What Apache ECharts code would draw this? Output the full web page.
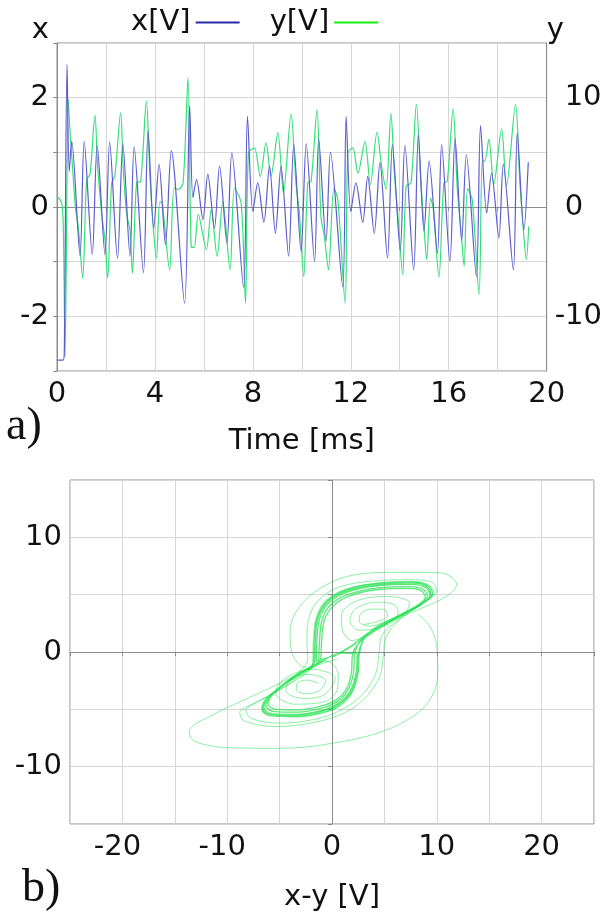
<!DOCTYPE html>
<html><head><meta charset="utf-8">
<script src="https://cdn.jsdelivr.net/npm/echarts@6/dist/echarts.min.js"></script>
<style>html,body{margin:0;padding:0;background:#fff}#c{width:605px;height:916px}</style>
</head><body><div id="c"></div>
<script>
// ---- time series (a) ----
const xSignal = [[0,-2.8],[0.25,-2.8],[0.3,-2.6],[0.41,2.61],[0.5,0.65],[0.6,1.2],[0.94,-0.89],[1.11,1.2],[1.44,-0.87],[1.64,1.13],[1.96,-0.87],[2.15,1.19],[2.47,-0.94],[2.69,1.16],[2.98,-0.9],[3.15,1.1],[3.53,-1.2],[3.72,1.39],[3.95,-0.39],[4.17,0.78],[4.43,-0.69],[4.67,1.03],[5.21,-1.76],[5.42,1.85],[5.55,0.17],[5.7,0.5],[5.96,-0.23],[6.16,0.6],[6.43,-0.39],[6.64,0.75],[6.94,-0.66],[7.14,0.99],[7.62,-1.47],[7.78,1.66],[8.0,-0.08],[8.2,0.44],[8.45,-0.28],[8.68,0.75],[8.92,-0.48],[9.15,0.75],[9.46,-0.9],[9.67,1.14],[9.97,-0.81],[10.18,1.16],[10.52,-1.0],[10.69,1.24],[10.99,-0.63],[11.17,1.0],[11.67,-1.46],[11.81,1.66],[12.0,-0.08],[12.21,0.44],[12.49,-0.28],[12.69,0.56],[12.96,-0.48],[13.19,0.81],[13.5,-0.94],[13.7,1.14],[14.02,-0.8],[14.21,1.13],[14.57,-1.15],[14.76,1.33],[14.99,-0.45],[15.2,0.84],[15.54,-0.84],[15.71,1.14],[16.05,-1.0],[16.26,1.25],[16.53,-0.61],[16.72,0.96],[17.13,-1.27],[17.3,1.49],[17.55,-0.11],[17.75,0.62],[18.05,-0.57],[18.23,0.78],[18.64,-1.15],[18.8,1.36],[19.07,-0.42],[19.25,0.82]];
const ySignal = [[0,0.98],[0.19,0.37],[0.26,-2.0],[0.33,-13.7],[0.46,9.85],[0.52,7.4],[0.66,2.8],[0.76,-0.24],[0.87,-1.8],[1.05,-6.5],[1.21,2.5],[1.35,3.0],[1.55,8.4],[1.66,3.7],[1.82,-0.55],[1.96,-3.0],[2.07,-6.5],[2.23,2.2],[2.36,2.8],[2.6,8.6],[2.7,3.7],[2.84,-0.55],[2.98,-2.1],[3.08,-6.05],[3.25,2.2],[3.42,2.35],[3.65,9.7],[3.79,3.1],[3.93,-1.8],[4.06,-4.7],[4.2,0.5],[4.3,0.3],[4.6,-5.75],[4.78,1.74],[4.95,1.6],[5.15,2.2],[5.35,11.8],[5.48,-3.6],[5.6,-3.7],[5.77,-0.7],[6.1,-3.9],[6.3,-0.24],[6.54,-4.5],[6.77,0.5],[7.07,-5.75],[7.25,1.74],[7.52,0.37],[7.7,-8.8],[7.82,4.95],[8.06,5.4],[8.3,2.8],[8.54,5.87],[8.74,2.8],[9.02,6.8],[9.25,1.28],[9.56,8.5],[9.76,2.2],[9.9,-0.5],[10.08,-6.4],[10.24,2.2],[10.38,2.35],[10.62,8.9],[10.78,-0.86],[10.92,-2.7],[11.09,-5.75],[11.31,1.74],[11.47,0.67],[11.77,-8.8],[11.88,4.95],[12.08,5.4],[12.29,3.1],[12.58,6.0],[12.8,2.05],[13.07,6.85],[13.26,3.7],[13.44,1.6],[13.64,8.56],[13.78,3.1],[13.94,-1.2],[14.12,-6.2],[14.26,1.9],[14.46,2.2],[14.68,9.4],[14.86,2.5],[14.99,-1.8],[15.1,-4.8],[15.26,0.8],[15.37,-0.2],[15.6,-6.4],[15.8,2.2],[15.94,2.35],[16.18,9.0],[16.35,1.6],[16.49,-1.8],[16.63,-5.4],[16.77,1.7],[16.96,0.67],[17.24,-8.0],[17.37,4.2],[17.47,4.2],[17.64,6.2],[17.84,2.05],[18.16,7.15],[18.36,1.9],[18.73,9.4],[18.9,2.5],[19.04,-1.8],[19.17,-4.8],[19.27,-1.77]];
const timeLabels = [0, 4, 8, 12, 16, 20];
const xLabels = [-2, 0, 2];
const yLabels = [-10, 0, 10];

// ---- phase portrait (b) ----
const bandLoops = [
 [0.0,-0.45],[1.6,0.35],[3.2,1.45],[6.2,3.0],[8.7,4.25],[9.6,5.05],[9.2,5.75],[7.8,6.1],[4.6,6.0],[1.4,5.45],[-0.5,4.45],[-1.45,2.9],[-1.7,0.8],[-1.75,-0.9],
 [-3.5,-2.05],[-5.1,-3.15],[-6.3,-4.1],[-6.7,-5.0],[-5.9,-5.55],[-3.5,-5.65],[-0.9,-5.3],[0.7,-4.7],[1.9,-3.55],[2.5,-1.8],[2.6,-0.2],
 [3.4,1.6],[6.3,3.05],[8.5,4.15],[9.35,4.95],[8.95,5.6],[7.6,5.9],[4.5,5.8],[1.5,5.25],[-0.3,4.3],[-1.2,2.85],[-1.45,0.8],[-1.5,-0.8],
 [0.3,-0.25],[1.9,0.55],[3.5,1.7],[6.3,3.1],[8.3,4.1],[9.1,4.85],[8.7,5.45],[7.4,5.7],[4.4,5.6],[1.6,5.05],[-0.1,4.15],[-0.95,2.8],[-1.2,0.8],[-1.3,-0.75],
 [-3.4,-2.0],[-5.0,-3.1],[-6.1,-4.0],[-6.5,-4.85],[-5.7,-5.4],[-3.4,-5.45],[-1.0,-5.1],[0.55,-4.5],[1.7,-3.45],[2.3,-1.8],[2.4,-0.2],
 [1.0,-0.1],[-1.8,-1.3],[-4.85,-3.0],[-5.9,-3.85],[-6.3,-4.7],[-5.5,-5.2],[-3.3,-5.25],[-1.0,-4.9],[0.45,-4.35],[1.5,-3.35],[2.05,-1.8],[2.15,-0.2],
 [3.3,1.55],[6.2,3.0],[8.6,4.2],[9.45,5.0],[9.05,5.7],[7.7,6.0],[4.6,5.9],[1.45,5.35],[-0.4,4.4],[-1.35,2.9],[-1.6,0.8],[-1.65,-0.85],
 [-3.45,-2.0],[-5.05,-3.1],[-6.2,-4.05],[-6.6,-4.95],[-5.8,-5.5],[-3.5,-5.55],[-1.0,-5.2],[0.6,-4.6],[1.8,-3.5],[2.4,-1.8],[2.5,-0.2],
 [3.6,1.75],[6.3,3.15],[8.1,4.05],[8.9,4.75],[8.5,5.35],[7.2,5.55],[4.4,5.45],[1.7,4.9],[0.1,4.0],[-0.75,2.7],[-1.0,0.8],[-1.1,-0.7],
 [-3.2,-1.9],[-4.7,-2.95],[-5.7,-3.75],[-6.1,-4.55],[-5.3,-5.0],[-3.2,-5.05],[-1.0,-4.7],[0.35,-4.2],[1.35,-3.25],[1.85,-1.8],[1.95,-0.2],
 [3.3,1.4],[6.2,3.0]];
const innerUpper = [[3.0,2.4],[4.3,2.65],[5.3,3.15],[5.0,3.7],[3.8,3.75],[2.7,3.3],[2.6,2.7],[3.6,2.25],[5.2,2.7],[6.3,3.3],[6.0,4.1],[4.3,4.35],[2.3,3.8],[1.7,2.8],[2.6,1.9],[4.8,2.2],[7.0,3.4],[7.4,4.3],[5.2,4.85],[2.2,4.4],[0.9,3.2],[1.0,1.9],[1.9,1.0],[3.4,1.5],[6.1,2.95],[8.5,4.15]];
const innerLower = [[-1.3,-2.75],[-2.3,-2.45],[-3.3,-2.7],[-3.4,-3.3],[-2.4,-3.65],[-1.2,-3.35],[-0.6,-2.5],[-2.3,-1.95],[-4.0,-2.5],[-4.4,-3.35],[-2.8,-4.05],[-0.8,-3.75],[0.3,-2.3],[-2.0,-1.5],[-4.6,-2.4],[-5.4,-3.55],[-3.6,-4.55],[-0.8,-4.35],[0.5,-3.3],[0.6,-2.0],[-0.5,-0.8],[-3.3,-1.95],[-5.0,-3.1]];
const wideLower = [[-1.8,-1.3],[-5.0,-3.3],[-7.5,-4.5],[-8.8,-5.3],[-8.4,-6.0],[-5.5,-6.5],[-2.0,-6.2],[1.2,-5.3],[3.4,-3.8],[4.6,-2.0],[4.9,-0.3],[5.2,1.4],[6.8,3.1],[8.9,4.4],[9.7,5.2],[9.2,5.85],[7.8,6.15],[4.6,6.05],[1.4,5.5],[-0.6,4.5],[-1.5,3.0],[-1.8,0.8],[-1.85,-1.0],[-4.8,-3.2],[-7.2,-4.4],[-8.2,-5.1],[-7.7,-5.8],[-5.0,-6.2],[-1.8,-5.9],[1.0,-5.0],[3.0,-3.6],[4.2,-1.8],[4.5,0.0],[4.8,1.5],[6.5,2.9],[8.5,4.1]];
const wideUpper = [[5.0,2.4],[8.8,4.4],[10.0,5.3],[9.5,6.1],[7.5,6.3],[4.0,6.2],[0.8,5.7],[-1.2,4.6],[-2.2,3.0],[-2.4,1.0],[-2.3,-0.6],[-3.2,-1.8],[-5.2,-3.3]];
const outerUpper = [[0.5,-0.2],[2.6,0.9],[5.5,2.6],[8.5,3.8],[11.0,4.9],[11.9,5.9],[10.4,6.9],[6.3,6.95],[1.5,6.6],[-1.7,5.2],[-3.5,3.4],[-4.0,1.7],[-3.85,0.0],[-3.1,-1.1],[-2.0,-1.5]];
const outerLower = [[0.5,-0.6],[-1.8,-1.3],[-5.0,-2.75],[-8.2,-4.1],[-11.4,-5.5],[-13.6,-6.9],[-13.4,-7.6],[-12.0,-8.1],[-9.8,-8.35],[-5.0,-8.4],[-0.2,-8.0],[4.6,-7.0],[7.9,-5.5],[9.45,-4.0],[10.1,-1.8],[10.0,0.5],[9.3,2.3],[8.2,3.3]];
const phaseHLabels = [-20, -10, 0, 10, 20];
const phaseVLabels = [-10, 0, 10];

const F = 'DejaVu Sans';
const FS = 29;
const TXT = '#111';
const GRIDC = '#d6d6d6';
const AXC = '#8c8c8c';
const base = {fontSize: FS, fontFamily: F, color: TXT};

function phaseSeries(name, data, width, op) {
  return {name: name, type: 'line', xAxisIndex: 1, yAxisIndex: 2, data: data, symbol: 'none', smooth: 0.35,
    lineStyle: {color: '#00dd33', width: width, opacity: op}, silent: true, z: 3};
}

const chart = echarts.init(document.getElementById('c'), null, {renderer: 'canvas'});
chart.setOption({
  animation: false,
  backgroundColor: '#fff',
  textStyle: {fontFamily: F},
  legend: {
    top: 3, left: 126, align: 'right', itemGap: 30, itemWidth: 44, itemHeight: 2, icon: 'rect',
    textStyle: base,
    data: [
      {name: 'x[V]', icon: 'rect', itemStyle: {color: '#2a2aa6'}},
      {name: 'y[V]', icon: 'rect', itemStyle: {color: '#11ee11'}}
    ]
  },
  grid: [
    {left: 57, top: 43, width: 491, height: 328, show: true, borderColor: AXC, borderWidth: 1},
    {left: 70, top: 480, width: 524, height: 344, show: true, borderColor: AXC, borderWidth: 1}
  ],
  xAxis: [
    {type: 'value', gridIndex: 0, min: 0, max: 20, interval: 2,
      name: 'Time [ms]', nameLocation: 'middle', nameGap: 56, nameTextStyle: base,
      axisLine: {lineStyle: {color: AXC}}, axisTick: {show: true, length: 4, lineStyle: {color: AXC}},
      axisLabel: Object.assign({margin: 9, formatter: v => timeLabels.includes(v) ? String(v) : ''}, base),
      splitLine: {show: true, lineStyle: {color: GRIDC}}},
    {type: 'value', gridIndex: 1, min: -25, max: 25, interval: 5,
      name: 'x-y [V]', nameLocation: 'middle', nameGap: 59, nameTextStyle: base,
      axisLine: {lineStyle: {color: AXC}}, axisTick: {show: true, length: 4, lineStyle: {color: AXC}},
      axisLabel: {margin: 9, color: TXT, fontSize: FS, fontFamily: F,
        formatter: v => phaseHLabels.includes(v) ? (v < 0 ? '{n|' + v + '}' : '{p|' + v + '}') : '',
        rich: {n: Object.assign({padding: [0, 10, 0, 0]}, base), p: Object.assign({}, base)}},
      splitLine: {show: true, lineStyle: {color: GRIDC}}}
  ],
  yAxis: [
    {type: 'value', gridIndex: 0, position: 'left', min: -3, max: 3, interval: 1,
      name: 'x', nameLocation: 'end', nameGap: -2,
      nameTextStyle: Object.assign({align: 'right', verticalAlign: 'bottom', padding: [0, 8, 0, 0]}, base),
      axisLine: {show: true, lineStyle: {color: AXC}}, axisTick: {show: true, length: 4, lineStyle: {color: AXC}},
      axisLabel: Object.assign({margin: 8, formatter: v => xLabels.includes(v) ? String(v) : ''}, base),
      splitLine: {show: true, lineStyle: {color: GRIDC}}},
    {type: 'value', gridIndex: 0, position: 'right', min: -15, max: 15, interval: 5,
      name: 'y', nameLocation: 'end', nameGap: -2,
      nameTextStyle: Object.assign({align: 'left', verticalAlign: 'bottom', padding: [0, 0, 0, 0]}, base),
      axisLine: {show: true, lineStyle: {color: AXC}}, axisTick: {show: false},
      axisLabel: {margin: 8, color: TXT, fontSize: FS, fontFamily: F,
        formatter: v => yLabels.includes(v) ? (v < 0 ? '{n|' + v + '}' : '{p|' + v + '}') : '',
        rich: {n: Object.assign({}, base), p: Object.assign({padding: [0, 0, 0, 10]}, base)}},
      splitLine: {show: false}},
    {type: 'value', gridIndex: 1, min: -15, max: 15, interval: 5,
      axisLine: {show: true, lineStyle: {color: AXC}}, axisTick: {show: true, length: 4, lineStyle: {color: AXC}},
      axisLabel: Object.assign({margin: 8, formatter: v => phaseVLabels.includes(v) ? String(v) : ''}, base),
      splitLine: {show: true, lineStyle: {color: GRIDC}}}
  ],
  graphic: [
    {type: 'text', left: 6, top: 404, style: {text: 'a)', font: '46px "Liberation Serif"', fill: TXT}},
    {type: 'text', left: 22, top: 866, style: {text: 'b)', font: '46px "Liberation Serif"', fill: TXT}}
  ],
  series: [
    {name: 'y[V]', type: 'line', xAxisIndex: 0, yAxisIndex: 1, data: ySignal, symbol: 'none', smooth: 0.3,
      lineStyle: {color: '#35e07a', width: 1.2}, itemStyle: {color: '#35e07a'}, z: 3},
    {name: 'x[V]', type: 'line', xAxisIndex: 0, yAxisIndex: 0, data: xSignal, symbol: 'none', smooth: 0.3,
      lineStyle: {color: '#5c5cd0', width: 1.2}, itemStyle: {color: '#5c5cd0'}, z: 4},
    phaseSeries('band', bandLoops, 1.3, 0.65),
    phaseSeries('innerU', innerUpper, 1, 0.45),
    phaseSeries('innerL', innerLower, 1, 0.45),
    phaseSeries('wideL', wideLower, 1, 0.45),
    phaseSeries('wideU', wideUpper, 1, 0.45),
    phaseSeries('outerU', outerUpper, 1, 0.45),
    phaseSeries('outerL', outerLower, 1, 0.45)
  ]
});
</script></body></html>
